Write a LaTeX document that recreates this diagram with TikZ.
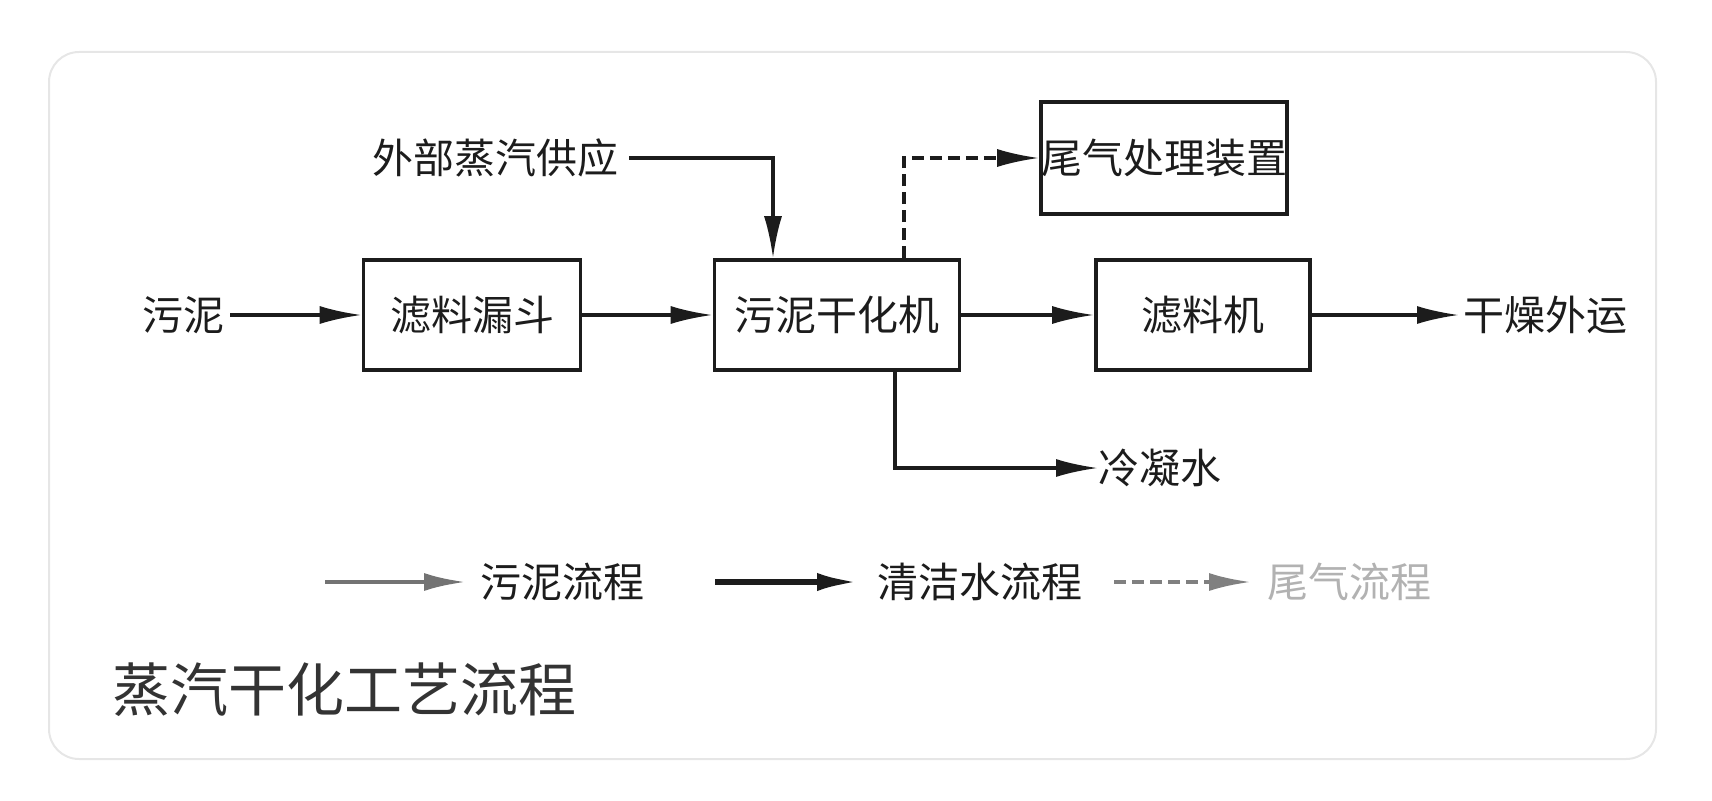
\documentclass[tikz,border=0pt]{standalone}
\usepackage{fontspec}
\setmainfont{Noto Sans CJK SC}
\usetikzlibrary{arrows.meta}
\definecolor{ink}{HTML}{1C1C1C}
\definecolor{frame}{HTML}{E6E6E6}
\begin{document}
\begin{tikzpicture}[x=1pt,y=-1pt,
    box/.style={draw=ink,line width=3.6pt,minimum width=#1,minimum height=110pt,inner sep=0pt},
    lbl/.style={font=\fontsize{41}{48}\selectfont,text=ink,inner sep=0pt},
    flow/.style={draw=ink,line width=3.2pt,-{Latex[length=42pt,width=18pt]}},
    gasflow/.style={flow,dash pattern=on 12pt off 6pt}]
    \useasboundingbox (0,0) rectangle (1712,800);
    \draw [frame,line width=2pt,rounded corners=30pt] (49,52) rectangle (1656,759);
    % main line
    \node [lbl] (sludge) at (183,315) {污泥};
    \node [box=217pt,lbl] (hopper) at (472,315) {滤料漏斗};
    \node [box=245pt,lbl] (dryer) at (837,315) {污泥干化机};
    \node [box=214pt,lbl] (filter) at (1203,315) {滤料机};
    \node [box=240pt,minimum height=112pt,lbl] (gas) at (1164,158) {尾气处理装置};
    \node [lbl,anchor=west] (out) at (1463,315) {干燥外运};
    \node [lbl,anchor=east] (steam) at (619,158) {外部蒸汽供应};
    \node [lbl,anchor=west] (cond) at (1098,468) {冷凝水};
    \draw [flow] ([xshift=6pt]sludge.east) -- (hopper);
    \draw [flow] (hopper) -- (dryer);
    \draw [flow] (dryer) -- (filter);
    \draw [flow] (filter) -- ([xshift=-4pt]out.west);
    \draw [flow] ([xshift=10pt]steam.east) -| ([xshift=-64pt]dryer.north);
    \draw [gasflow] ([xshift=67pt]dryer.north) |- (gas.west);
    \draw [flow] ([xshift=58pt]dryer.south) |- (cond.west);
    % legend
    \coordinate (l1) at (325,582);
    \coordinate (l2) at (715,582);
    \coordinate (l3) at (1114,582);
    \node [lbl,anchor=west] (t1) at (480,582) {污泥流程};
    \node [lbl,anchor=west] (t2) at (877,582) {清洁水流程};
    \node [lbl,anchor=west,text=black!30] (t3) at (1267,582) {尾气流程};
    \draw [flow,draw=black!55,line width=4.5pt] (l1) -- ([xshift=-14pt]t1.west);
    \draw [flow,line width=6pt] (l2) -- ([xshift=-18pt]t2.west);
    \draw [gasflow,draw=black!50,line width=4pt] (l3) -- ([xshift=-16pt]t3.west);
    \node [anchor=west,inner sep=0pt,text=black!80,font=\fontsize{58}{66}\selectfont] (title) at (112,690) {蒸汽干化工艺流程};
\end{tikzpicture}
\end{document}
